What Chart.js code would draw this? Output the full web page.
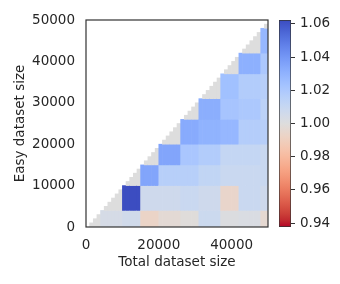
<!DOCTYPE html>
<html>
<head>
<meta charset="utf-8">
<script src="https://cdn.jsdelivr.net/npm/chart.js@4.4.0/dist/chart.umd.min.js"></script>
<style>
  html, body { margin: 0; padding: 0; background: #fff; }
  #wrap { position: relative; width: 340px; height: 284px; }
  #heat { position: absolute; left: 0; top: 0; }
  #cbar { position: absolute; left: 270px; top: 0; }
</style>
</head>
<body>
<div id="wrap">
  <canvas id="heat" width="340" height="284"></canvas>
  <canvas id="cbar" width="70" height="284"></canvas>
</div>
<script>
// dataset sizes are on a 1000 grid, results were measured on coarser groups
const sizeStep = 1000;
const sizeMax = 50000;
const groupEdges = [0, 4000, 10000, 15000, 20000, 26000, 31000, 37000, 42000, 48000, 50000];

// ratio per total-size group, one value per easy-size group below it
const col0 = [];
const col1 = [1.004];
const col2 = [1.006, 1.062];
const col3 = [0.993, 1.007, 1.035];
const col4 = [0.997, 1.007, 1.016, 1.035];
const col5 = [0.999, 1.009, 1.016, 1.021, 1.033];
const col6 = [1.008, 1.007, 1.012, 1.018, 1.030, 1.032];
const col7 = [1.001, 0.994, 1.009, 1.011, 1.028, 1.022, 1.024];
const col8 = [1.002, 1.009, 1.009, 1.011, 1.017, 1.020, 1.018, 1.031];
const col9 = [0.996, 1.007, 1.009, 1.009, 1.016, 1.014, 1.016, 1.020, 1.028];
const columns = [col0, col1, col2, col3, col4, col5, col6, col7, col8, col9];

const xTicks = [0, 20000, 40000];
const yTicks = [0, 10000, 20000, 30000, 40000, 50000];
const cbTicks = [0.94, 0.96, 0.98, 1.00, 1.02, 1.04, 1.06];
const vmin = 0.9377, vmax = 1.0623;

// matplotlib coolwarm
const coolwarm = [
  [59,76,192],[68,90,204],[77,104,215],[87,117,225],[98,130,234],[108,142,241],
  [119,154,247],[130,165,251],[141,176,254],[152,185,255],[163,194,255],[174,201,253],
  [184,208,249],[194,213,244],[204,217,238],[213,219,230],[221,221,221],[229,216,209],
  [236,211,197],[241,204,185],[245,196,173],[247,187,160],[247,177,148],[247,166,135],
  [244,154,123],[241,141,111],[236,127,99],[229,112,88],[222,96,77],[213,80,66],
  [203,62,56],[192,40,47],[180,4,38]
];

function cmap(v) {
  let t = (vmax - v) / (vmax - vmin);
  t = Math.min(1, Math.max(0, t)) * (coolwarm.length - 1);
  const k = Math.min(Math.floor(t), coolwarm.length - 2);
  const f = t - k;
  const a = coolwarm[k], b = coolwarm[k + 1];
  const c = a.map((x, n) => Math.round(x + (b[n] - x) * f));
  return 'rgb(' + c.join(',') + ')';
}

// one floating bar per fine column and easy group
const cells = [];
for (let x0 = 0; x0 < sizeMax; x0 += sizeStep) {
  let g = 0;
  while (x0 >= groupEdges[g + 1]) g++;
  columns[g].forEach((v, r) => {
    cells.push({ x: x0 + sizeStep / 2, y: [groupEdges[r], groupEdges[r + 1]], v: v });
  });
  if (x0 > groupEdges[g]) {
    cells.push({ x: x0 + sizeStep / 2, y: [groupEdges[g], x0], v: 1.0 });
  }
}

const font = { family: 'DejaVu Sans', size: 13.5 };
const textColor = '#262626';

const frame = {
  id: 'frame',
  afterDatasetsDraw(chart) {
    const a = chart.chartArea;
    const ctx = chart.ctx;
    ctx.save();
    ctx.strokeStyle = '#333';
    ctx.lineWidth = 1.2;
    ctx.strokeRect(a.left, a.top, a.right - a.left, a.bottom - a.top);
    ctx.restore();
  }
};

const heat = new Chart(document.getElementById('heat').getContext('2d'), {
  type: 'bar',
  data: {
    datasets: [{
      data: cells,
      backgroundColor: c => (c.raw ? cmap(c.raw.v) : '#ddd'),
      borderWidth: 0,
      barPercentage: 1,
      categoryPercentage: 1,
      grouped: false
    }]
  },
  options: {
    responsive: false,
    animation: false,
    layout: { padding: { top: 20, right: 72, left: 0, bottom: 0 } },
    plugins: { legend: { display: false }, tooltip: { enabled: false } },
    scales: {
      x: {
        type: 'linear', min: 0, max: sizeMax, offset: false,
        grid: { display: false, drawTicks: false }, border: { display: false },
        afterBuildTicks: s => { s.ticks = xTicks.map(v => ({ value: v })); },
        afterFit: s => { s.height = 57; },
        ticks: { font: font, color: textColor, padding: 10, maxRotation: 0, autoSkip: false, callback: v => String(v) },
        title: { display: true, text: 'Total dataset size', font: font, color: textColor, padding: { top: 0, bottom: 13 } }
      },
      y: {
        type: 'linear', min: 0, max: sizeMax,
        grid: { display: false, drawTicks: false }, border: { display: false },
        afterBuildTicks: s => { s.ticks = yTicks.map(v => ({ value: v })); },
        afterFit: s => { s.width = 86; },
        ticks: { font: font, color: textColor, padding: 11, autoSkip: false, callback: v => String(v) },
        title: { display: true, text: 'Easy dataset size', font: font, color: textColor, padding: { top: 12, bottom: 0 } }
      }
    }
  },
  plugins: [frame]
});

function barGradient(chart) {
  const area = chart.chartArea;
  if (!area) return '#ddd';
  const y = chart.scales.y;
  const g = chart.ctx.createLinearGradient(0, y.getPixelForValue(vmax), 0, y.getPixelForValue(vmin));
  coolwarm.forEach((c, i) => g.addColorStop(i / (coolwarm.length - 1), 'rgb(' + c.join(',') + ')'));
  return g;
}

const cbar = new Chart(document.getElementById('cbar').getContext('2d'), {
  type: 'bar',
  data: {
    labels: [''],
    datasets: [{
      data: [[vmin, vmax]],
      backgroundColor: c => barGradient(c.chart),
      borderColor: '#333',
      borderWidth: 1,
      borderSkipped: false,
      barPercentage: 1,
      categoryPercentage: 1
    }]
  },
  options: {
    responsive: false,
    animation: false,
    layout: { padding: { top: 20, left: 9, right: 0, bottom: 57 } },
    plugins: { legend: { display: false }, tooltip: { enabled: false } },
    scales: {
      x: { display: false },
      y: {
        position: 'right', min: vmin, max: vmax,
        afterFit: s => { s.width = 49; },
        afterBuildTicks: s => { s.ticks = cbTicks.map(v => ({ value: v })); },
        grid: { drawOnChartArea: false, drawTicks: true, tickLength: 4, color: '#333' },
        border: { display: false },
        ticks: { font: font, color: textColor, padding: 5, autoSkip: false, callback: v => v.toFixed(2) }
      }
    }
  }
});
</script>
</body>
</html>
